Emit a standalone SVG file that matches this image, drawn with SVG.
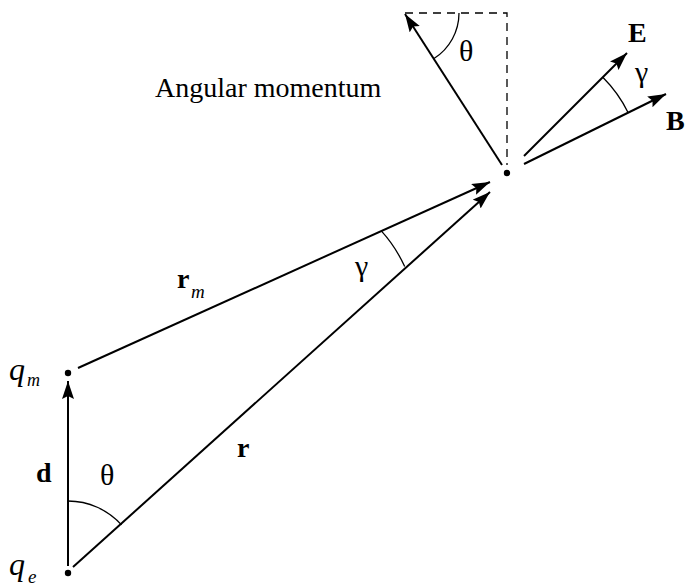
<svg xmlns="http://www.w3.org/2000/svg" width="686" height="586" viewBox="0 0 686 586">
<style>
.ln{stroke:#000;stroke-width:2;fill:none}
.arc{stroke:#000;stroke-width:1.3;fill:none}
.dash{stroke:#000;stroke-width:1.3;fill:none;stroke-dasharray:8 6}
text{font-family:"Liberation Serif","Times New Roman",serif;font-size:28px;fill:#000}
.b{font-weight:bold}
.i{font-style:italic}
.g{font-size:30px}
.q{font-size:32px;font-style:italic}
.sub{font-size:19px;font-style:italic}
</style>
<defs>
<marker id="ah" markerUnits="userSpaceOnUse" markerWidth="20" markerHeight="14" refX="18" refY="6" orient="auto">
<path d="M0,0 L18,6 L0,12 L3,6 z" fill="#000"/>
</marker>
</defs>
<rect width="686" height="586" fill="#fff"/>
<g id="connectors">
<line class="ln" x1="68" y1="566" x2="68" y2="381" marker-end="url(#ah)"/>
<line class="ln" x1="78" y1="368" x2="490" y2="182" marker-end="url(#ah)"/>
<line class="ln" x1="73" y1="567" x2="490" y2="192" marker-end="url(#ah)"/>
<line class="ln" x1="502" y1="165" x2="405" y2="14" marker-end="url(#ah)"/>
<line class="ln" x1="524" y1="156" x2="627" y2="53" marker-end="url(#ah)"/>
<line class="ln" x1="524" y1="164" x2="666" y2="94" marker-end="url(#ah)"/>
<path class="dash" d="M405,13 H507 V165"/>
<path class="arc" d="M381.3,230.9 A138,138 0 0 1 404.7,266.6"/>
<path class="arc" d="M68,501 A72,72 0 0 1 121.5,524.9"/>
<path class="arc" d="M459,13 A54,54 0 0 1 434,58.5"/>
<path class="arc" d="M602.8,77.2 A134,134 0 0 1 628.2,112.7"/>
</g>
<g id="P"><circle cx="507" cy="173" r="3.2" fill="#000"/></g>
<g id="qm"><circle cx="68" cy="373" r="3.2" fill="#000"/><text x="9" y="380" class="q">q</text><text x="27" y="386" class="sub" style="font-size:18px">m</text></g>
<g id="qe"><circle cx="68" cy="573" r="3.2" fill="#000"/><text x="9" y="575" class="q">q</text><text x="28" y="583" class="sub">e</text></g>
<g id="labels">
<text x="155" y="97">Angular momentum</text>
<text x="459" y="61" class="g">θ</text>
<text x="100" y="485" class="g">θ</text>
<text x="355" y="276" class="g">γ</text>
<text x="635" y="82" class="g">γ</text>
<text x="628" y="42" class="b">E</text>
<text x="666" y="130" class="b">B</text>
<text x="36" y="482" class="b">d</text>
<text x="177" y="288" class="b">r</text><text x="191" y="298" class="sub">m</text>
<text x="237" y="457" class="b">r</text>
</g>
</svg>
